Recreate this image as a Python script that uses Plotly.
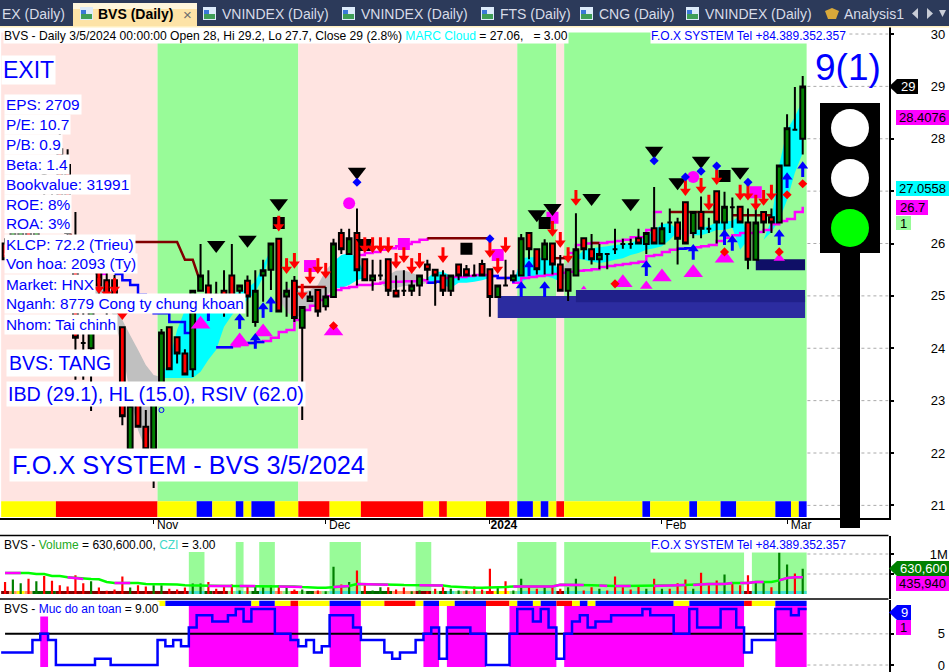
import plotly.graph_objects as go

# ---------- data ----------
opens = [26.0,25.7,26.0,26.5,26.1,27.33,26.7,27.8,27.5,25.9,24.1,24.0,25.5,25.3,25.3,24.4,22.07,23.0,22.5,22.07,
 23.2,24.4,24.21,23.9,23.6,25.1,25.2,25.02,25.1,25.39,25.1,25.29,24.5,25.39,25.5,26.09,24.99,25.29,24.39,24.9,
 25.11,24.8,24.98,26.2,25.8,26.2,25.7,25.3,25.39,25.7,25.1,25.1,25.1,25.2,25.6,25.5,25.39,25.1,25.6,25.51,
 25.39,25.61,25.51,24.98,25.2,25.3,25.39,26.2,25.89,25.7,26.0,25.6,25.1,25.39,26.1,25.89,25.7,25.8,25.89,25.99,
 25.99,26.1,25.99,26.29,26.0,26.4,26.4,26.79,26.2,26.6,26.28,27.0,26.4,26.69,26.7,26.4,25.69,26.6,26.5,26.4,
 27.49,28.17,28.0]
highs = [26.1,26.4,26.4,26.6,26.8,27.33,27.0,28.1,27.8,26.6,25.0,25.2,25.7,25.5,25.4,24.4,22.9,23.1,22.82,23.2,
 24.37,24.4,24.21,23.98,25.1,25.99,25.49,25.27,25.49,25.99,25.2,25.39,25.49,25.69,26.0,26.09,25.27,25.38,24.79,25.09,
 25.11,25.17,26.09,26.28,26.28,26.67,25.7,25.69,25.69,25.7,25.39,25.49,25.3,25.39,25.69,25.5,25.49,25.39,25.6,25.59,
 25.6,25.69,25.51,25.2,25.69,25.49,26.18,26.2,25.89,26.08,26.0,25.78,25.51,26.58,26.1,26.18,25.99,25.8,26.28,26.09,
 26.09,26.28,26.2,27.08,26.4,26.67,26.49,26.79,26.6,26.9,26.49,27.0,26.99,26.88,26.7,26.67,26.68,26.6,26.67,27.5,
 28.47,28.99,29.2]
lows = [25.7,25.6,25.9,26.0,26.0,26.9,26.2,26.5,26.0,23.4,23.4,22.8,25.0,24.6,24.7,22.53,22.07,22.5,22.07,21.33,
 23.2,23.6,23.71,23.5,23.45,25.1,24.6,24.8,24.6,24.7,25.0,24.6,24.41,24.89,25.11,24.7,24.6,24.5,22.63,24.9,
 24.6,24.72,24.98,25.8,25.8,25.2,25.3,25.1,25.3,25.0,24.99,25.0,25.0,25.0,25.3,24.81,25.0,25.0,25.3,25.39,
 25.39,25.39,24.6,24.98,25.2,25.3,25.39,25.7,25.41,25.41,25.41,25.1,24.9,25.39,25.7,25.6,25.51,25.51,25.8,25.9,
 25.9,26.0,25.8,26.0,26.0,26.2,25.6,26.0,26.1,26.1,26.2,26.0,26.2,26.3,26.4,25.51,25.69,26.2,26.2,26.4,
 27.49,28.17,27.7]
closes = [25.7,26.3,26.3,26.1,26.6,27.33,26.4,26.6,26.2,24.2,24.1,25.0,25.2,24.7,24.8,22.7,22.9,22.5,22.07,23.1,
 24.3,23.6,23.9,23.5,25.1,25.39,24.69,25.02,24.79,24.8,25.2,24.99,25.1,25.49,26.0,24.7,25.1,24.58,24.79,24.99,
 24.7,24.99,26.0,25.89,26.1,25.49,25.3,25.39,25.39,25.1,24.99,25.1,25.2,25.39,25.5,25.39,25.1,25.39,25.39,25.39,
 25.39,25.39,24.98,25.2,25.2,25.39,26.1,25.89,25.51,26.0,25.6,25.1,25.51,25.89,25.89,25.7,25.8,25.8,25.89,25.99,
 25.99,26.0,26.2,26.0,26.29,26.4,26.09,26.0,26.6,26.28,26.28,26.4,26.7,26.69,26.4,25.69,26.4,26.4,26.4,27.49,
 28.2,28.17,29.0]

volumes = [.30,.36,.27,.38,.32,.45,.33,.22,.19,.47,.27,.32,.16,.08,.11,.44,.16,.22,.19,.22,
 .22,.13,.11,.16,.26,.26,.30,.13,.19,.24,.09,.22,.22,.17,.22,.22,.19,.11,.11,.05,
 .09,.07,.68,.24,.30,.59,.22,.09,.17,.17,.11,.16,.07,.09,.07,.13,.17,.13,.09,.09,
 .19,.11,.63,.16,.32,.09,.38,.19,.13,.19,.17,.13,.17,.38,.09,.17,.13,.09,.44,.17,
 .11,.19,.13,.38,.13,.13,.27,.36,.13,.53,.22,.34,.49,.26,.22,.47,.32,.32,.17,1.04,
 .74,.51,.63]
volume_sides = "rggrgrrrrr" "rgrrrrgrrg" "grrrggrrrr" "grgggrgrgg" "rggrgrrggr" "rrggrrrggg" "rrrgrggrrg" "rrggrrgrrr" "rrgrgrrrgr" "rrgrrrggrg" "grg"
vol_ma = [.525,.525,.525,.525,.50,.50,.45,.45,.417,.40,.375,.375,.367,.30,.275,.275,.275,.275,.25,.25,
 .25,.242,.24,.217,.21,.208,.20,.20,.20,.20,.20,.20,.20,.20,.20,.19,.19,.19,.175,.158,
 .158,.158,.175,.19,.20,.25,.25,.25,.25,.233,.233,.225,.225,.217,.217,.217,.21,.19,.175,.158,
 .158,.158,.158,.158,.175,.19,.19,.19,.19,.19,.19,.233,.233,.225,.225,.217,.21,.20,.20,.20,
 .20,.20,.20,.20,.21,.217,.217,.225,.225,.242,.25,.25,.25,.275,.275,.275,.30,.30,.30,.34,
 .40,.417,.417]
vol_ma_pink_runs = [(0,2),(8,10),(14,16),(26,29),(30,32),(35,38),(42,44),(45,49),(53,56),(65,74),(76,77),(78,80),(83,87),(88,93),(94,97),(99,102)]

safety = [2,2,2,2,4,5,4,0,0,0,0,0,1,1,0,0,0,0,0,0,
 4,3,4,3,6,8,8,7,7,8,9,7,9,9,9,5,5,4,3,4,
 2,3,8,8,8,6,4,4,4,2,1,2,2,4,5,6,1,6,6,6,
 5,5,0,0,0,5,9,9,7,9,6,1,5,7,8,6,7,7,8,8,
 8,8,9,8,8,8,5,5,9,6,6,6,9,9,6,2,4,4,4,9,
 9,8,9]
safety_fill_runs = [(5,1,7.86),(24,14,9.47),(42,4,9.47),(54,2,9.47),(57,5,9.47),(65,6,9.47),(72,23,9.47),(99,4,9.47)]

band_runs = [(7,'y'),(13,'r'),(5,'y'),(2,'b'),(3,'y'),(1,'b'),(1,'y'),(3,'b'),(3,'y'),(4,'r'),(4,'y'),(8,'r'),(2,'y'),(1,'r'),
 (5,'y'),(3,'r'),(1,'y'),(2,'b'),(1,'y'),(1,'b'),(1,'y'),(1,'r'),(10,'y'),(1,'b'),(5,'y'),(1,'b'),(3,'y'),(2,'b'),(5,'y'),(2,'b'),(1,'y'),(1,'b')]
safety_band_runs = [(20,'w'),(1,'y'),(11,'b'),(1,'y'),(2,'b'),(2,'y'),(1,'r'),(4,'y'),(4,'b'),(3,'y'),(4,'r'),(1,'y'),(2,'b'),(2,'y'),(4,'b'),
 (3,'r'),(1,'y'),(2,'b'),(1,'y'),(2,'b'),(2,'r'),(1,'y'),(1,'b'),(1,'y'),(10,'b'),(2,'y'),(7,'b'),(1,'r'),(3,'y'),(4,'b')]
zone_runs = [(20,'p'),(18,'g'),(28,'p'),(5,'g'),(1,'p'),(31,'g')]
vol_zone_runs = [(24,2,1.05),(30,1,1.3),(33,2,1.3),(42,4,1.3),(53,2,1.3),(66,5,1.3),(72,23,1.3),(96,7,1.3)]
vol_strip_runs = [(1,'m'),(1,'o'),(1,'y'),(1,'o'),(3,'d'),(17,'m'),(2,'t'),(1,'d'),(2,'m'),(1,'l'),(1,'t'),(1,'l'),(1,'d'),(2,'t'),(1,'o'),(1,'l'),(1,'r'),
 (1,'l'),(1,'d'),(1,'o'),(1,'l'),(4,'t'),(4,'d'),(3,'o'),(2,'m'),(1,'l'),(1,'d'),(1,'t'),(1,'l'),(1,'o'),(2,'l'),(1,'r'),(2,'y'),(1,'l'),(5,'t'),(1,'m'),(23,'t'),(1,'m'),(7,'t')]

cloud_gray_a_x = [11,12,13,14,15,16,17,18,19,20]
cloud_gray_a_hi = [25.21,25.25,25.11,24.83,24.54,24.25,23.97,23.68,23.49,23.45]
cloud_gray_a_lo = [24.92,24.92,24.92,24.54,23.97,23.10,22.44,22.06,22.80,23.45]
cloud_cyan_b_x = list(range(20,35))
cloud_cyan_b_hi = [23.43,23.78,24.35,24.73,24.98,25.02,25.02,25.02,25.02,25.05,25.07,25.15,25.27,25.59,25.88]
cloud_cyan_b_lo = [23.43,23.43,23.43,23.43,23.43,23.55,23.78,23.97,24.41,24.63,24.81,24.92,25.07,25.36,25.88]
cloud_gray_c_x = [35,36,37,38,39,40,41,42]
cloud_gray_c_hi = [24.96,25.15,25.15,25.07,25.11,25.21,25.49,25.65]
cloud_gray_c_lo = [24.96,24.69,24.58,24.63,24.77,24.83,24.98,25.15]
cloud_cyan_d_x = [42,43,44,45,46]
cloud_cyan_d_hi = [25.65,25.78,25.82,25.74,25.40]
cloud_cyan_d_lo = [25.15,25.15,25.21,25.30,25.34]
cloud_gray_e_x = [47,48,49,50,51,52,53,54]
cloud_gray_e_hi = [25.25,25.25,25.40,25.48,25.49,25.44,25.38,25.30]
cloud_gray_e_lo = [25.25,25.25,25.11,25.15,25.19,25.19,25.21,25.25]
cloud_cyan_f_x = list(range(54,63))
cloud_cyan_f_hi = [25.34,25.46,25.46,25.38,25.34,25.36,25.40,25.40,25.36]
cloud_cyan_f_lo = [25.25,25.27,25.21,25.15,25.25,25.25,25.27,25.30,25.34]
cloud_cyan_g_x = list(range(65,72))
cloud_cyan_g_hi = [25.25,25.72,25.74,25.74,25.72,25.65,25.46]
cloud_cyan_g_lo = [25.25,25.27,25.34,25.38,25.38,25.34,25.27]
cloud_gray_h_x = [71,72,73]
cloud_gray_h_hi = [25.46,25.65,25.72]
cloud_gray_h_lo = [25.27,25.38,25.72]
cloud_cyan_i_x = list(range(73,87))
cloud_cyan_i_hi = [25.72,25.88,25.91,25.93,25.95,25.97,25.99,26.01,26.07,26.11,26.26,26.37,26.39,26.26]
cloud_cyan_i_lo = [25.72,25.69,25.65,25.63,25.65,25.69,25.72,25.78,25.82,25.88,25.91,25.95,26.07,26.22]
cloud_gray_j_x = [86,87,88]
cloud_gray_j_hi = [26.26,26.30,26.22]
cloud_gray_j_lo = [26.22,26.11,26.16]
cloud_cyan_k_x = list(range(88,96))
cloud_cyan_k_hi = [26.22,26.30,26.33,26.41,26.43,26.43,26.53,26.16]
cloud_cyan_k_lo = [26.16,26.16,26.20,26.26,26.26,26.30,25.88,26.07]
cloud_cyan_m_x = [97,98,99,100,101,102]
cloud_cyan_m_hi = [26.07,26.45,27.50,28.17,28.42,28.74]
cloud_cyan_m_lo = [26.07,26.22,26.45,26.83,27.35,27.73]

low_line_x = list(range(27,103))
low_line = [24.02,24.02,24.04,24.06,24.10,24.12,24.14,24.20,24.31,24.35,24.54,24.73,24.81,24.92,25.0,25.11,25.15,25.17,25.21,25.21,
 25.23,25.25,25.27,25.27,25.28,25.28,25.30,25.25,25.27,25.34,25.36,25.36,25.38,25.40,25.40,25.38,25.34,25.34,25.25,25.34,
 25.36,25.38,25.40,25.42,25.44,25.46,25.48,25.49,25.51,25.55,25.57,25.59,25.61,25.63,25.65,25.76,25.78,25.84,25.88,25.90,
 25.91,25.93,25.95,25.97,26.05,26.11,26.16,26.20,26.20,26.22,26.26,26.37,26.43,26.47,26.60,26.70]
low_blue_runs = [(27,29),(31,33),(54,56),(62,65),(86,88)]
high_pink_a_x = [45,46,47,48,49,50,51,52,53,54]
high_pink_a = [25.78,25.82,25.84,25.88,25.91,25.95,25.99,26.03,26.07,26.11]
high_pink_b_x = [72,73,74,75,76,77,78,79,80,81,82,83,84]
high_pink_b = [25.82,25.97,26.0,26.01,26.01,26.03,26.05,26.07,26.12,26.12,26.26,26.60,26.60]
pink_short_x = [12,13]
pink_short = [25.42,25.42]
stop_dark_segments = [([8,9,22,23,24,25],[26.26,26.03,26.03,25.69,25.69,25.25]),
                      ([37,41],[25.17,25.17]),([54,62],[26.10,26.10]),([70,72],[25.72,25.72]),
                      ([75,76],[26.01,26.01]),([85,91],[26.60,26.60]),([93,98],[26.54,26.54])]
stop_blue_x = [14,15,16,17,18,19,20,21,22,23,24]
stop_blue = [25.42,25.30,25.21,25.02,24.83,24.67,24.67,24.50,24.50,24.29,24.29]

box_low_x0, box_low_x1, box_low_lo, box_low_hi = [63,73,96],[102.3,102.3,102.3],[24.58,24.88,25.49],[25.0,25.11,25.70]

black_tri_x = [27,31,35,45,46,68,70,75,80,83,86,89,94]
black_tri_y = [25.97,26.07,26.77,27.37,26.01,26.56,26.68,26.87,26.77,27.77,27.17,27.58,27.37]
black_sq_x = [35,46,59,69,92]
black_sq_y = [26.39,25.97,25.90,26.39,27.29]
pink_sq_x = [39,51,63,70,96]
pink_sq_y = [25.57,25.99,25.78,26.49,26.98]
pink_dot_x = [44,88]
pink_dot_y = [26.77,27.27]
pink_tri_x = [25,30,33,42,92,99,79,82,84,88,74]
pink_tri_y = [24.46,24.14,24.31,24.33,25.72,25.72,25.25,25.19,25.36,25.44,25.15]
pink_tri_s = [17,17,17,17,17,10,17,11,17,17,5]
red_arrow_x = [12,13,14,15,35,36,37,38,39,40,41,46,47,48,49,50,51,52,53,56,62,63,64,70,71,72,73,87,89,90,91,94,95,96,97,98]
red_arrow_y = [25.13,25.04,25.13,24.63,26.32,25.51,25.61,25.02,25.32,25.51,25.42,25.91,25.91,25.91,25.91,25.61,25.72,25.51,25.61,25.72,
 25.82,25.51,25.91,26.22,26.01,25.72,26.81,27.0,27.04,26.72,27.21,26.91,26.91,26.72,26.81,26.91]
blue_arrow_x = [26,30,32,33,34,66,67,69,82,88,92,93,99,100,102]
blue_arrow_y = [24.73,24.58,24.2,24.79,24.9,25.19,25.59,25.19,25.59,25.9,26.18,26.07,26.18,27.27,27.48]
blue_diamond_x = [45,62,83,87,89,91,95]
blue_diamond_y = [27.17,26.09,27.58,27.27,27.38,27.48,27.17]
red_diamond_x = [42,78,92,99,100,102]
red_diamond_y = [24.43,25.23,25.84,25.84,26.93,27.14]

month_ticks = [19,41,62,84,100]
month_labels = ["Nov","Dec","<b>2024</b>","Feb","Mar"]
price_ticks = [21,22,23,24,25,26,27,28,29,30]
price_labels = ["21","22","23","24","25","26","","28","29","30"]
info_lines = ["EPS: 2709","P/E: 10.7","P/B: 0.9","Beta: 1.4","Bookvalue: 31991","ROE: 8%","ROA: 3%","KLCP: 72.2 (Trieu)",
              "Von hoa: 2093 (Ty)","Market: HNX","Nganh: 8779 Cong ty chung khoan","Nhom: Tai chinh"]
tab_names = [("VNINDEX (Daily)",221),("VNINDEX (Daily)",360),("FTS (Daily)",499),("CNG (Daily)",598),("VNINDEX (Daily)",704),("Analysis1",843)]

# ---------- styling ----------
W, H = 949, 672
PINK, GREEN_BG = "#FFE4E1", "#98FB98"
CANDLE_G, CANDLE_R = "#008000", "#FF0000"
BAND = {'y':'#FFFF00','r':'#FF0000','b':'#0000FF','w':'#FFFFFF','p':PINK,'g':GREEN_BG,
        'm':'#800000','o':'#FF9966','d':'#006400','t':'#40E0D0','l':'#90EE90'}
SANS = "Liberation Sans"
fig = go.Figure()

def run_bars(runs):
    xs, ws, cs, k = [], [], [], 0
    for n, c in runs:
        xs.append(k + n/2 - .5); ws.append(n); cs.append(BAND[c]); k += n
    return xs, ws, cs

def bars(x, w, lo, hi, color, xa='x', ya='y'):
    fig.add_trace(go.Bar(x=x, y=[h-l for h, l in zip(hi, lo)], base=lo, width=w, marker=dict(color=color, line_width=0),
                         xaxis=xa, yaxis=ya, hoverinfo='skip', showlegend=False))

def cloud(x, hi, lo, color):
    fig.add_trace(go.Scatter(x=x+x[::-1], y=hi+lo[::-1], fill='toself', fillcolor=color, mode='none',
                             hoverinfo='skip', showlegend=False))

def line(x, y, color, width=2, xa='x', ya='y', dash=None, shape=None):
    fig.add_trace(go.Scatter(x=x, y=y, mode='lines', line=dict(color=color, width=width, dash=dash, shape=shape),
                             xaxis=xa, yaxis=ya, hoverinfo='skip', showlegend=False, connectgaps=False))

def marks(x, y, symbol, color, size, err=None, ya='y4'):
    t = dict(x=x, y=y, mode='markers', marker=dict(symbol=symbol, color=color, size=size, line_width=0, opacity=1),
             xaxis='x', yaxis=ya, hoverinfo='skip', showlegend=False)
    if err == 'up':
        t['error_y'] = dict(type='constant', value=.21, valueminus=0, symmetric=False, color=color, thickness=3, width=0)
    if err == 'down':
        t['error_y'] = dict(type='constant', value=0, valueminus=.21, symmetric=False, color=color, thickness=3, width=0)
    fig.add_trace(go.Scatter(**t))

# main pane background, bottom band, price boxes
xs, ws, cs = run_bars(zone_runs)
bars(xs, ws, [21.08]*len(xs), [30.03]*len(xs), cs)
xs, ws, cs = run_bars(band_runs)
bars(xs, ws, [20.78]*len(xs), [21.08]*len(xs), cs)
bars([(a+b)/2 for a, b in zip(box_low_x0, box_low_x1)], [b-a for a, b in zip(box_low_x0, box_low_x1)],
     box_low_lo, box_low_hi, ["#2C2CA0", "#20208A", "#0F0F66"])

# grid stubs right of the data
for p in price_ticks:
    line([102.6, 113], [p, p], "#AAAAAA", 1, dash='dot')

for cx, chi, clo, col in [(cloud_gray_a_x,cloud_gray_a_hi,cloud_gray_a_lo,'#C0C0C0'),(cloud_cyan_b_x,cloud_cyan_b_hi,cloud_cyan_b_lo,'#00FFFF'),
                          (cloud_gray_c_x,cloud_gray_c_hi,cloud_gray_c_lo,'#C0C0C0'),(cloud_cyan_d_x,cloud_cyan_d_hi,cloud_cyan_d_lo,'#00FFFF'),
                          (cloud_gray_e_x,cloud_gray_e_hi,cloud_gray_e_lo,'#C0C0C0'),(cloud_cyan_f_x,cloud_cyan_f_hi,cloud_cyan_f_lo,'#00FFFF'),
                          (cloud_cyan_g_x,cloud_cyan_g_hi,cloud_cyan_g_lo,'#00FFFF'),(cloud_gray_h_x,cloud_gray_h_hi,cloud_gray_h_lo,'#C0C0C0'),
                          (cloud_cyan_i_x,cloud_cyan_i_hi,cloud_cyan_i_lo,'#00FFFF'),(cloud_gray_j_x,cloud_gray_j_hi,cloud_gray_j_lo,'#C0C0C0'),
                          (cloud_cyan_k_x,cloud_cyan_k_hi,cloud_cyan_k_lo,'#00FFFF'),(cloud_cyan_m_x,cloud_cyan_m_hi,cloud_cyan_m_lo,'#00FFFF')]:
    cloud(cx, chi, clo, col)

line(low_line_x, low_line, "#FF00FF", 2.5, shape='hv')
lb_x, lb_y = [], []
for a, b in low_blue_runs:
    for k in range(a, b+1):
        lb_x.append(k); lb_y.append(low_line[k-27])
    lb_x.append(None); lb_y.append(None)
line(lb_x, lb_y, "#0000FF", 2.5, shape='hv')
line(high_pink_a_x, high_pink_a, "#FF00FF", 2.5, shape='hv')
line(high_pink_b_x, high_pink_b, "#FF00FF", 2.5, shape='hv')
line(pink_short_x, pink_short, "#FF00FF", 2.5)
for sx, sy in stop_dark_segments:
    line(sx, sy, "#800000", 2.5)
line(stop_blue_x, stop_blue, "#0000FF", 2.5, shape='hv')

# candles and signals in an overlaid pane, so that they sit above the cloud
fig.add_trace(go.Candlestick(x=list(range(len(opens))), open=opens, high=highs, low=lows, close=closes, xaxis='x', yaxis='y4',
    increasing=dict(fillcolor=CANDLE_G, line=dict(color='#000000', width=2)),
    decreasing=dict(fillcolor=CANDLE_R, line=dict(color='#000000', width=2)),
    whiskerwidth=0, showlegend=False, hoverinfo='skip'))
marks(pink_sq_x, pink_sq_y, 'square', '#FF00FF', 12)
marks(pink_dot_x, pink_dot_y, 'circle', '#FF00FF', 12)
marks(pink_tri_x, pink_tri_y, 'triangle-up', '#FF00FF', pink_tri_s)
marks(black_sq_x, black_sq_y, 'square', '#000000', 12)
marks(black_tri_x, black_tri_y, 'triangle-down', '#000000', 16)
marks(red_arrow_x, red_arrow_y, 'triangle-down', '#FF0000', 9.5, 'up')
marks(blue_arrow_x, blue_arrow_y, 'triangle-up', '#0000FF', 9.5, 'down')
marks(blue_diamond_x, blue_diamond_y, 'diamond', '#0000FF', 7)
marks(red_diamond_x, red_diamond_y, 'diamond', '#FF0000', 7)
marks([20], [22.82], 'circle-open', '#0000FF', 5)

# volume pane
vz_x = [s + n/2 - .5 for s, n, _ in vol_zone_runs]
bars(vz_x, [n for _, n, _ in vol_zone_runs], [0]*len(vz_x), [t for _, _, t in vol_zone_runs], GREEN_BG, 'x2', 'y2')
xs, ws, cs = run_bars(vol_strip_runs)
bars(xs, ws, [0]*len(xs), [.075]*len(xs), cs, 'x2', 'y2')
bars(list(range(len(volumes))), [.28]*len(volumes), [0]*len(volumes), volumes,
     [CANDLE_R if s == 'r' else CANDLE_G for s in volume_sides], 'x2', 'y2')
for v in [.5, 1]:
    line([102.6, 113], [v, v], "#AAAAAA", 1, 'x2', 'y2', dash='dot')
line(list(range(len(vol_ma))), vol_ma, "#00FF00", 2.5, 'x2', 'y2')
pk_x, pk_y = [], []
for a, b in vol_ma_pink_runs:
    for k in range(a, b+1):
        pk_x.append(k); pk_y.append(vol_ma[k])
    pk_x.append(None); pk_y.append(None)
line(pk_x, pk_y, "#FF00FF", 2.5, 'x2', 'y2')

# safety pane
sf_x = [s + n/2 - .5 for s, n, _ in safety_fill_runs]
bars(sf_x, [n for _, n, _ in safety_fill_runs], [-.32]*len(sf_x), [t for _, _, t in safety_fill_runs], "#FF00FF", 'x3', 'y3')
xs, ws, cs = run_bars(safety_band_runs)
bars(xs, ws, [9.47]*len(xs), [10.32]*len(xs), cs, 'x3', 'y3')
for v in [0, 5]:
    line([102.6, 113], [v, v], "#AAAAAA", 1, 'x3', 'y3', dash='dot')
line([0, 102], [5, 5], "#000000", 2, 'x3', 'y3')
line([k-.5 for k in range(len(safety))]+[102.5], safety+[safety[-1]], "#0000FF", 2.5, 'x3', 'y3', shape='hv')

# ---------- decoration ----------
def px(x): return x / W
def py(y): return 1 - y / H
shapes, anns = [], []
def rect(x0, y0, x1, y1, color):
    shapes.append(dict(type='rect', xref='paper', yref='paper', x0=px(x0), x1=px(x1), y0=py(y0), y1=py(y1),
                       fillcolor=color, line_width=0))
def circle(cx, cy, r, color):
    shapes.append(dict(type='circle', xref='paper', yref='paper', x0=px(cx-r), x1=px(cx+r), y0=py(cy-r), y1=py(cy+r),
                       fillcolor=color, line_width=0))
def hline(y, x0=0, x1=888.5, color='#000000', w=1.5):
    shapes.append(dict(type='line', xref='paper', yref='paper', x0=px(x0), x1=px(x1), y0=py(y), y1=py(y), line=dict(color=color, width=w)))
def poly(points, color):
    d = "M" + " L".join(f"{px(a):.5f},{py(b):.5f}" for a, b in points) + " Z"
    shapes.append(dict(type='path', xref='paper', yref='paper', path=d, fillcolor=color, line_width=0))
def ann(x, y, text, size=15.4, color='#0000FF', bg='#FFFFFF', anchor='left', pad=1):
    anns.append(dict(x=px(x), y=py(y), xref='paper', yref='paper', text=text, showarrow=False, xanchor=anchor, yanchor='middle',
                     font=dict(family=SANS, size=size, color=color), bgcolor=bg, borderpad=pad, align='left'))

# tab strip
rect(0, 0, W, 26, "#2C3A5A")
rect(0, 26, W, 27.5, "#FFEFC0")
rect(73, 3, 197, 26, "#FDE3A7")
rect(73, 3, 197, 9, "#FFF6DC")
for ix in [80, 203, 342, 481, 580, 686]:
    rect(ix, 7, ix+13, 20, "#DDEBFA")
    rect(ix+1, 14, ix+12, 19, "#3F9E57")
    rect(ix+1, 10, ix+6, 14, "#3A78D8")
poly([(825,11),(832,8),(839,11),(836,19),(828,19)], "#D9A93A")
poly([(918,8),(918,19),(912,13.5)], "#C8CCD6")
poly([(927,8),(927,19),(933,13.5)], "#C8CCD6")
poly([(939,10),(946,10),(942.5,17)], "#C8CCD6")
ann(1, 14, "EX (Daily)", 14, "#D8DCE8", None, pad=0)
ann(97, 14, "<b>BVS (Daily)</b>", 14, "#000000", None, pad=0)
ann(182, 14, "×", 15, "#6E6E6E", None, pad=0)
for name, tx in tab_names:
    ann(tx, 14, name, 14, "#D8DCE8", None, pad=0)

# traffic light
rect(820, 103, 880, 253, "#000000")
rect(840, 253, 860, 528, "#000000")
circle(850, 128, 19, "#FFFFFF")
circle(850, 178, 19, "#FFFFFF")
circle(850, 228, 19, "#00FF00")

# pane dividers
hline(535.5)
hline(599)

# value tags
poly([(889,86.5),(897,79),(918,79),(918,94),(897,94)], "#000000"); ann(907.5, 86.5, "29", 13, "#FFFFFF", None, 'center', 0)
rect(896,110,949,125,"#FF00FF"); ann(922.5,117.5,"28.4076",13,"#000000",None,'center',0)
rect(896,181,949,196,"#00FFFF"); ann(922.5,188.5,"27.0558",13,"#000000",None,'center',0)
rect(896,200,928,215,"#FF00FF"); ann(912,207.5,"26.7",13,"#000000",None,'center',0)
rect(896,216,911,230,GREEN_BG); ann(903.5,223,"1",13,"#000000",None,'center',0)
poly([(889,568.5),(897,561),(949,561),(949,576),(897,576)], "#008000"); ann(923,568.5,"630,600",13,"#FFFFFF",None,'center',0)
rect(896,576,949,591,"#FF00FF"); ann(922.5,583.5,"435,940",13,"#000000",None,'center',0)
poly([(889,612.5),(897,605),(911,605),(911,620),(897,620)], "#0000FF"); ann(904,612.5,"9",13,"#FFFFFF",None,'center',0)
rect(896,620,911,635,"#FF00FF"); ann(903.5,627.5,"1",13,"#000000",None,'center',0)

# legends and notes
ann(3, 36, "BVS - Daily 3/5/2024 00:00:00 Open 28, Hi 29.2, Lo 27.7, Close 29 (2.8%) <span style='color:#00FFFF'>MARC Cloud</span> = 27.06,&nbsp;&nbsp; = 3.00", 12.1, "#000000", '#FFFFFF', pad=0)
ann(650, 36, "F.O.X SYSTEM Tel +84.389.352.357", 12, "#0000FF", '#FFFFFF', pad=0)
ann(3, 544.5, "BVS - <span style='color:#22AA22'>Volume</span> = 630,600.00, <span style='color:#40D8C8'>CZI</span> = 3.00", 12, "#000000", None, pad=0)
ann(650, 545, "F.O.X SYSTEM Tel +84.389.352.357", 12, "#0000FF", '#FFFFFF', pad=0)
ann(3, 609, "BVS - <span style='color:#0000FF'>Muc do an toan</span> = 9.00", 12, "#000000", '#FFFFFF', pad=0)
ann(1, 70, "EXIT", 23)
for i, t in enumerate(info_lines):
    ann(4, 104 + 20*i, t)
ann(6, 363, "BVS: TANG", 19.5, pad=2)
ann(6, 394, "IBD (29.1), HL (15.0), RSIV (62.0)", 19.7, pad=1)
ann(9, 465, "F.O.X SYSTEM - BVS 3/5/2024", 25.3, pad=2)
ann(848, 68, "9(1)", 37, "#0000FF", None, 'center', 0)

X_RANGE = [-0.647, 112.97]
DOM_X = [0, 888.5/W]
axis_y = dict(side='right', showgrid=False, zeroline=False, showline=True, linecolor='#000000', linewidth=1.5,
              ticks='outside', ticklen=4, tickwidth=1.5, tickcolor='#000000', ticklabeloverflow='allow',
              tickfont=dict(family=SANS, size=13, color='#000000'))
axis_x = dict(range=X_RANGE, domain=DOM_X, showgrid=False, zeroline=False, showticklabels=False, fixedrange=True)
fig.update_layout(
    width=W, height=H, margin=dict(l=0, r=0, t=0, b=0, autoexpand=False), autosize=False, paper_bgcolor='#FFFFFF', plot_bgcolor='#FFFFFF',
    barmode='overlay', boxgap=0.12, showlegend=False, shapes=shapes, annotations=anns,
    xaxis=dict(axis_x, anchor='y', rangeslider=dict(visible=False), showline=True, linecolor='#000000', linewidth=1.5,
               showticklabels=True, tickmode='array', tickvals=month_ticks, ticktext=month_labels, ticks='outside', ticklen=4,
               tickcolor='#000000', tickfont=dict(family=SANS, size=12, color='#000000'), ticklabelshift=14, ticklabelstandoff=-9,
               ticklabeloverflow='allow'),
    xaxis2=dict(axis_x, anchor='y2'),
    xaxis3=dict(axis_x, anchor='y3'),
    yaxis=dict(axis_y, domain=[1-518/H, 1-27/H], range=[20.759, 30.134], tickmode='array', tickvals=price_ticks, ticktext=price_labels, ticklabelstandoff=34),
    yaxis4=dict(domain=[1-518/H, 1-27/H], range=[20.759, 30.134], overlaying='y', visible=False, anchor='x', side='right'),
    yaxis2=dict(axis_y, domain=[1-599/H, 1-535.5/H], range=[-.125, 1.4625], tickmode='array', tickvals=[.5, 1], ticktext=['', '1M'], ticklabelstandoff=33),
    yaxis3=dict(axis_y, domain=[0, 1-599.5/H], range=[-1.12, 10.51], tickmode='array', tickvals=[0, 5], ticklabelstandoff=41),
)
fig.write_html("out.html", config={'displayModeBar': False}, post_script="document.body.style.margin='0';document.body.style.overflow='hidden';")
